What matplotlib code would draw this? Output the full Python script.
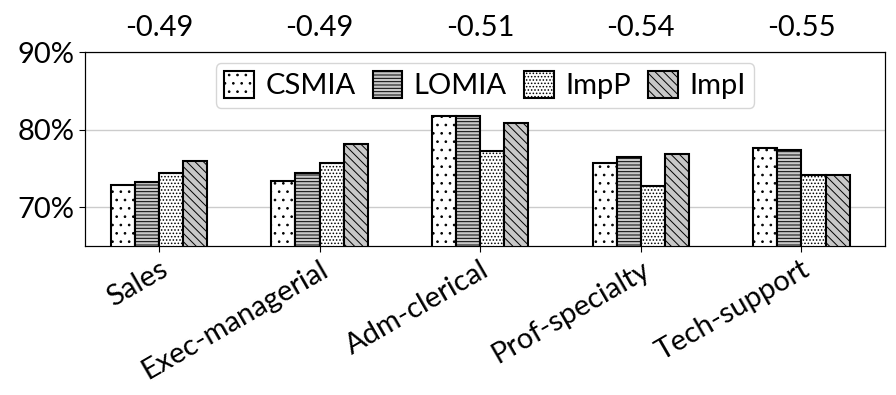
import matplotlib
matplotlib.use("Agg")
import matplotlib.pyplot as plt
import numpy as np

plt.rcParams['font.family'] = ['Lato', 'DejaVu Sans']
plt.rcParams['hatch.linewidth'] = 0.7

categories = ["Sales", "Exec-managerial", "Adm-clerical", "Prof-specialty", "Tech-support"]
top_labels = ["-0.49", "-0.49", "-0.51", "-0.54", "-0.55"]
series_names = ["CSMIA", "LOMIA", "ImpP", "ImpI"]
csmia = [72.9, 73.4, 81.7, 75.7, 77.6]
lomia = [73.2, 74.4, 81.7, 76.5, 77.4]
impp = [74.4, 75.7, 77.3, 72.7, 74.1]
impi = [76.0, 78.1, 80.9, 76.9, 74.2]
series = [csmia, lomia, impp, impi]

hatches = ['..', '-----', '.....', '\\\\\\\\']
fills = ['white', '#c8c8c8', 'white', '#c8c8c8']

fig = plt.figure(figsize=(8.96, 3.95), dpi=100)
ax = fig.add_axes([85/896, 1-246/395, 800/896, 194/395])

x = np.arange(len(categories))
w = 0.15
for i, (name, vals) in enumerate(zip(series_names, series)):
    ax.bar(x + (i - 1.5) * w, vals, w, label=name, color=fills[i],
           edgecolor='black', linewidth=1.5, hatch=hatches[i], zorder=3)

ax.set_ylim(65, 90)
ax.set_yticks([70, 80, 90])
ax.set_yticklabels(["70%", "80%", "90%"], fontsize=21)
ax.set_xlim(-0.46, 4.52)
ax.set_xticks(x)
ax.set_xticklabels(categories, rotation=30, ha='right', fontsize=21, rotation_mode='anchor')
ax.grid(axis='y', color='#cccccc', linewidth=1, zorder=0)
ax.tick_params(axis='both', length=4)

ax2 = ax.twiny()
ax2.set_xlim(ax.get_xlim())
ax2.set_xticks(x)
ax2.set_xticklabels(top_labels, fontsize=21)
ax2.tick_params(axis='x', length=0, pad=8)

leg = ax.legend(loc='upper center', ncol=4, fontsize=21, frameon=True,
                handlelength=1.0, handleheight=1.0, columnspacing=0.6,
                handletextpad=0.4, borderpad=0.3, bbox_to_anchor=(0.5, 1.02))
leg.get_frame().set_edgecolor('#cccccc')

fig.savefig("out.png", dpi=100)
